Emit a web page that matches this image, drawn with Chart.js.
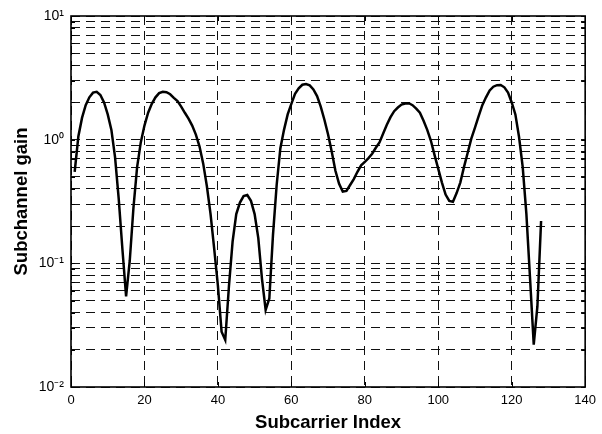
<!DOCTYPE html>
<html>
<head>
<meta charset="utf-8">
<script src="https://cdn.jsdelivr.net/npm/chart.js@4.4.1/dist/chart.umd.min.js"></script>
<style>
  html, body { margin: 0; padding: 0; background: #ffffff; }
  #wrap { width: 602px; height: 434px; }
</style>
</head>
<body>
<div id="wrap"><canvas id="c" width="602" height="434"></canvas></div>
<script>
// ---- data ----
const subcarrierIndex = Array.from({ length: 128 }, (_, i) => i + 1);
const subchannelGain = [
  0.55, 1.06, 1.5, 1.9, 2.2, 2.4, 2.44, 2.3, 2.0, 1.6,
  1.2, 0.72, 0.33, 0.13, 0.054, 0.105, 0.28, 0.6, 0.95, 1.3,
  1.65, 1.95, 2.2, 2.38, 2.44, 2.42, 2.33, 2.18, 2.05, 1.85,
  1.65, 1.48, 1.3, 1.1, 0.88, 0.64, 0.42, 0.25, 0.13, 0.066,
  0.028, 0.024, 0.065, 0.15, 0.25, 0.31, 0.35, 0.357, 0.32, 0.25,
  0.16, 0.075, 0.042, 0.052, 0.17, 0.43, 0.85, 1.2, 1.6, 1.95,
  2.35, 2.6, 2.78, 2.82, 2.75, 2.55, 2.25, 1.85, 1.45, 1.1,
  0.8, 0.56, 0.44, 0.38, 0.385, 0.43, 0.48, 0.55, 0.62, 0.66,
  0.71, 0.77, 0.86, 0.95, 1.12, 1.32, 1.52, 1.7, 1.82, 1.92,
  1.96, 1.97, 1.9, 1.78, 1.65, 1.42, 1.2, 0.98, 0.75, 0.58,
  0.45, 0.36, 0.32, 0.315, 0.37, 0.45, 0.6, 0.78, 1.02, 1.25,
  1.55, 1.9, 2.2, 2.5, 2.68, 2.76, 2.77, 2.65, 2.4, 2.0,
  1.6, 1.05, 0.6, 0.25, 0.075, 0.022, 0.045, 0.22
];
const xTickValues = [0, 20, 40, 60, 80, 100, 120, 140];
const yGridValues = [
  0.01, 0.02, 0.03, 0.04, 0.05, 0.06, 0.07, 0.08, 0.09,
  0.1, 0.2, 0.3, 0.4, 0.5, 0.6, 0.7, 0.8, 0.9,
  1, 2, 3, 4, 5, 6, 7, 8, 9, 10
];
const yLabelValues = [0.01, 0.1, 1, 10];
const yLabelTexts = ['10\u207B\u00B2', '10\u207B\u00B9', '10\u2070', '10\u00B9'];
const xAxisTitle = 'Subcarrier Index';
const yAxisTitle = 'Subchannel gain';

const FONT = "'Liberation Sans', Arial, Helvetica, sans-serif";

const boxPlugin = {
  id: 'boxPlugin',
  afterDraw(chart) {
    const { ctx, chartArea: a, scales } = chart;
    ctx.save();
    ctx.setLineDash([]);
    ctx.strokeStyle = '#000';
    ctx.lineWidth = 1;
    ctx.beginPath();
    // inward tick marks
    xTickValues.forEach(v => {
      const px = Math.round(scales.x.getPixelForValue(v)) + 0.5;
      ctx.moveTo(px, a.bottom); ctx.lineTo(px, a.bottom - 5);
      ctx.moveTo(px, a.top); ctx.lineTo(px, a.top + 5);
    });
    yGridValues.forEach(v => {
      const py = Math.round(scales.y.getPixelForValue(v)) + 0.5;
      ctx.moveTo(a.left, py); ctx.lineTo(a.left + 4, py);
      ctx.moveTo(a.right, py); ctx.lineTo(a.right - 4, py);
    });
    ctx.stroke();
    ctx.lineWidth = 1.6;
    ctx.strokeRect(a.left, a.top, a.right - a.left, a.bottom - a.top);
    ctx.restore();
  }
};

new Chart(document.getElementById('c'), {
  type: 'line',
  data: {
    datasets: [{
      data: subcarrierIndex.map((x, i) => ({ x: x, y: subchannelGain[i] })),
      borderColor: '#000',
      borderWidth: 2.5,
      pointRadius: 0,
      tension: 0,
      fill: false
    }]
  },
  options: {
    responsive: false,
    animation: false,
    devicePixelRatio: 1,
    layout: { padding: { left: 0, top: 16, right: 13.5, bottom: 0 } },
    plugins: { legend: { display: false }, tooltip: { enabled: false } },
    scales: {
      x: {
        type: 'linear',
        min: 0, max: 140,
        afterBuildTicks: s => { s.ticks = xTickValues.map(v => ({ value: v })); },
        afterFit: s => { s.height = 47; },
        grid: { color: '#111', lineWidth: 1, drawTicks: false },
        border: { display: false, dash: [9, 6] },
        ticks: {
          color: '#000', padding: 6, autoSkip: false, maxRotation: 0,
          font: { family: FONT, size: 13 }
        },
        title: {
          display: true, text: xAxisTitle, color: '#000',
          font: { family: FONT, size: 18.5, weight: 'bold' },
          padding: { top: 6, bottom: 0 }
        }
      },
      y: {
        type: 'logarithmic',
        min: 0.01, max: 10,
        afterBuildTicks: s => { s.ticks = yGridValues.map(v => ({ value: v })); },
        afterFit: s => { s.width = 71; },
        grid: { color: '#111', lineWidth: 1, drawTicks: false },
        border: { display: false, dash: [9, 6] },
        ticks: {
          color: '#000', padding: 7, autoSkip: false,
          font: { family: FONT, size: 14 },
          callback: (value) => {
            const i = yLabelValues.findIndex(v => Math.abs(v - value) / v < 1e-6);
            return i >= 0 ? yLabelTexts[i] : '';
          }
        },
        title: {
          display: true, text: yAxisTitle, color: '#000',
          font: { family: FONT, size: 18.5, weight: 'bold' },
          padding: { top: 11, bottom: 0 }
        }
      }
    }
  },
  plugins: [boxPlugin]
});
</script>
</body>
</html>
